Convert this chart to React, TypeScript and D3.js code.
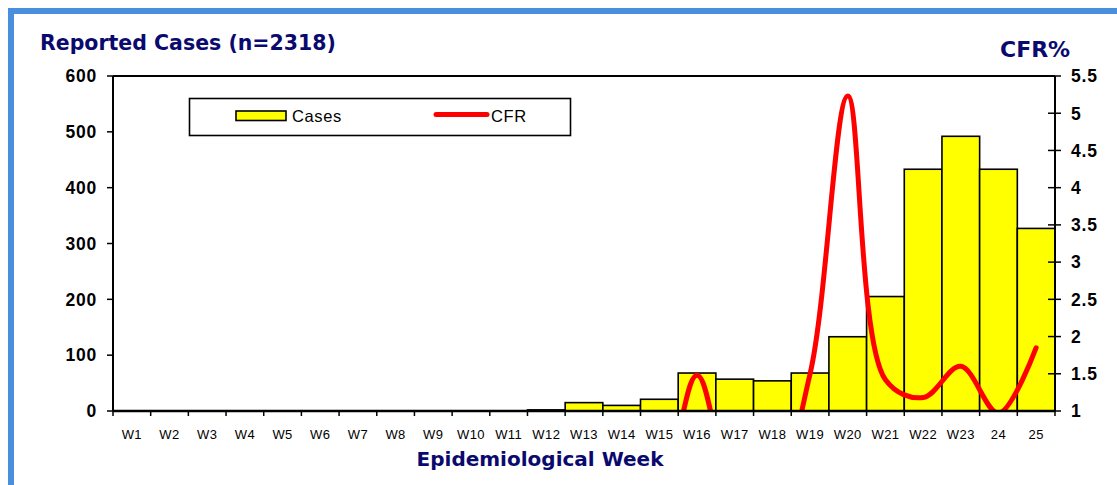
import React from "react";
import * as d3 from "d3";

const weeks = ["W1","W2","W3","W4","W5","W6","W7","W8","W9","W10","W11","W12","W13","W14","W15","W16","W17","W18","W19","W20","W21","W22","W23","24","25"];
const cases = [0,0,0,0,0,0,0,0,0,0,0,2,15,10,21,68,57,54,68,133,205,433,492,433,327];
const cfr = [0,0,0,0,0,0,0,0,0,0,0,0,0,0,0,1.48,0,0,1.5,5.23,1.42,1.18,1.6,0.97,1.85];
const leftTicks = [0,100,200,300,400,500,600];
const rightTicks = [1,1.5,2,2.5,3,3.5,4,4.5,5,5.5];

const W = 1117, H = 485;
const X0 = 113, X1 = 1055, Y0 = 76, Y1 = 411;
const NAVY = "#0a0a6e";
const AXFONT = "'Liberation Sans', Arial, sans-serif";
const TFONT = "'DejaVu Sans', Verdana, sans-serif";

export default function App() {
  const x = d3.scaleBand<string>().domain(weeks).range([X0, X1]).padding(0);
  const yL = d3.scaleLinear().domain([0, 600]).range([Y1, Y0]);
  const yR = d3.scaleLinear().domain([1, 5.5]).range([Y1, Y0]);
  const bw = x.bandwidth();
  const line = d3
    .line<number>()
    .x((_, i) => (x(weeks[i]) as number) + bw / 2)
    .y((d) => yR(d))
    .curve(d3.curveCatmullRom.alpha(0.5));

  return (
    <svg width={W} height={H} style={{ position: "absolute", left: 0, top: 0, display: "block" }}>
      <rect x={0} y={0} width={W} height={H} fill="#fff" />
      <rect x={11} y={11} width={W + 50} height={H + 50} fill="none" stroke="#4a8fdb" strokeWidth={6} />
      <defs>
        <clipPath id="plotClip">
          <rect x={X0} y={Y0} width={X1 - X0} height={Y1 - Y0} />
        </clipPath>
      </defs>

      {/* bars */}
      {cases.map((v, i) =>
        v > 0 ? (
          <rect
            key={weeks[i]}
            x={x(weeks[i])}
            y={yL(v)}
            width={bw}
            height={Y1 - yL(v)}
            fill="#ffff00"
            stroke="#000"
            strokeWidth={1.6}
          />
        ) : null
      )}

      {/* CFR line */}
      <g clipPath="url(#plotClip)">
        <path d={line(cfr) || ""} fill="none" stroke="#ff0000" strokeWidth={5} strokeLinejoin="round" strokeLinecap="round" />
      </g>

      {/* plot frame lines */}
      <line x1={X0} x2={X1} y1={Y0} y2={Y0} stroke="#000" strokeWidth={2} />
      <line x1={X0} x2={X0} y1={Y0} y2={Y1} stroke="#000" strokeWidth={2} />
      <line x1={X1} x2={X1} y1={Y0} y2={Y1} stroke="#000" strokeWidth={2} />
      <line x1={X0} x2={X1} y1={Y1} y2={Y1} stroke="#000" strokeWidth={2.5} />

      {/* left axis */}
      {leftTicks.map((t) => (
        <g key={"l" + t}>
          <line x1={X0 - 6} x2={X0} y1={yL(t)} y2={yL(t)} stroke="#000" strokeWidth={1.5} />
          <text x={97} y={yL(t)} dy="0.36em" textAnchor="end" fontFamily={AXFONT} fontWeight="bold" fontSize={17.5} letterSpacing={0.8} fill="#000">
            {t}
          </text>
        </g>
      ))}

      {/* right axis */}
      {rightTicks.map((t) => (
        <g key={"r" + t}>
          <line x1={X1 - 7} x2={X1 + 6} y1={yR(t)} y2={yR(t)} stroke="#000" strokeWidth={1.5} />
          <text x={1071} y={yR(t)} dy="0.36em" textAnchor="start" fontFamily={AXFONT} fontWeight="bold" fontSize={17.5} letterSpacing={0.8} fill="#000">
            {t}
          </text>
        </g>
      ))}

      {/* x axis ticks and labels */}
      {weeks.map((w) => (
        <g key={"x" + w}>
          <line x1={x(w) as number} x2={x(w) as number} y1={Y1} y2={Y1 + 5} stroke="#000" strokeWidth={1.5} />
          <text x={(x(w) as number) + bw / 2} y={439} textAnchor="middle" fontFamily={AXFONT} fontSize={13} letterSpacing={0.4} fill="#000">
            {w}
          </text>
        </g>
      ))}
      <line x1={X1} x2={X1} y1={Y1} y2={Y1 + 5} stroke="#000" strokeWidth={1.5} />

      {/* titles */}
      <text x={40} y={50} fontFamily={TFONT} fontWeight="bold" fontSize={20.5} fill={NAVY}>
        Reported Cases (n=2318)
      </text>
      <text x={1000} y={57} fontFamily={TFONT} fontWeight="bold" fontSize={22} fill={NAVY}>
        CFR%
      </text>
      <text x={540} y={466} textAnchor="middle" fontFamily={TFONT} fontWeight="bold" fontSize={20} fill={NAVY}>
        Epidemiological Week
      </text>

      {/* legend */}
      <rect x={189.5} y={98.5} width={381} height={37} fill="#fff" stroke="#000" strokeWidth={1.6} />
      <rect x={236} y={111} width={50} height={9.5} fill="#ffff00" stroke="#000" strokeWidth={1.6} />
      <text x={292} y={122} fontFamily={AXFONT} fontSize={16.5} letterSpacing={0.6} fill="#000">
        Cases
      </text>
      <line x1={436} x2={487} y1={114.5} y2={114.5} stroke="#ff0000" strokeWidth={5} strokeLinecap="round" />
      <text x={491} y={122} fontFamily={AXFONT} fontSize={16.5} letterSpacing={0.6} fill="#000">
        CFR
      </text>
    </svg>
  );
}
